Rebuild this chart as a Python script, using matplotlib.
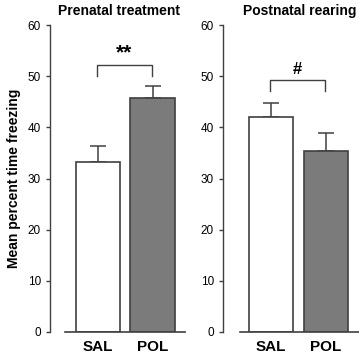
import matplotlib
matplotlib.use("Agg")
import matplotlib.pyplot as plt

plt.rcParams["font.family"] = ["Liberation Sans", "DejaVu Sans"]

groups = ["SAL", "POL"]
prenatal_mean = [33.2, 45.8]
prenatal_err = [3.1, 2.3]
postnatal_mean = [42.0, 35.4]
postnatal_err = [2.8, 3.5]
titles = ["Prenatal treatment", "Postnatal rearing"]
marks = ["**", "#"]
mark_sizes = [15, 12]
bar_colors = ["white", "#7b7b7b"]
edge = "#404040"

fig = plt.figure(figsize=(3.59, 3.54), dpi=100)
ax1 = fig.add_axes([65 / 359, 22 / 354, 120 / 359, 307 / 354])
ax2 = fig.add_axes([240 / 359, 22 / 354, 119 / 359, 307 / 354])

panels = [
    (ax1, prenatal_mean, prenatal_err, (-0.605, 1.596), 15, (52.1, 50.1), 0.45),
    (ax2, postnatal_mean, postnatal_err, (-0.564, 1.6), 17, (49.2, 47.1), 0.5),
]

for i, (ax, means, errs, xl, off, brk, tx) in enumerate(panels):
    x = [0, 1]
    ax.bar(x, means, width=0.81, color=bar_colors, edgecolor=edge, linewidth=1.2, zorder=2)
    ax.errorbar(x, means, yerr=[[0, 0], errs], fmt="none", ecolor=edge,
                elinewidth=1.1, capsize=5.5, capthick=1.1, zorder=1)
    ax.set_xlim(*xl)
    ax.set_ylim(0, 60)
    ax.set_yticks(range(0, 61, 10))
    ax.set_xticks(x)
    ax.set_xticklabels(groups, fontsize=11, fontweight="bold")
    ax.tick_params(axis="x", length=0, pad=6)
    ax.tick_params(axis="y", labelsize=8.5, width=1, length=3, color=edge, pad=3.5)
    for lab in ax.get_yticklabels():
        lab.set_fontweight("bold")
    for s in ["top", "right"]:
        ax.spines[s].set_visible(False)
    ax.spines["left"].set_position(("outward", off * 0.72))
    ax.spines["left"].set_color(edge)
    ax.spines["bottom"].set_color(edge)
    ax.spines["left"].set_linewidth(1)
    ax.spines["bottom"].set_linewidth(1.2)
    # significance bracket
    top, low = brk
    ax.plot([-0.02, -0.02, 0.99, 0.99], [low, top, top, low], color=edge, lw=1, clip_on=False)
    ax.text(0.48, top + 0.6, marks[i], ha="center", va="bottom",
            fontsize=mark_sizes[i], fontweight="bold")
    ax.set_title(titles[i], fontsize=10, fontweight="bold", pad=7, x=tx)

ax1.set_ylabel("Mean percent time freezing", fontsize=10, fontweight="bold", labelpad=5)

fig.savefig("out.png", dpi=100)
